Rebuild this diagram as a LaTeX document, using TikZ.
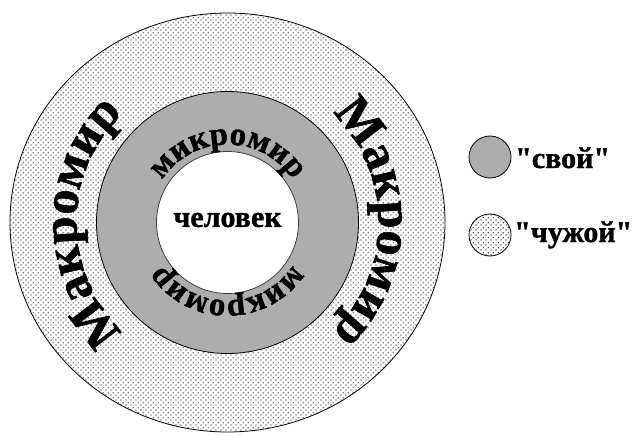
\documentclass[tikz,border=0pt]{standalone}
\usepackage{fontspec}
\setmainfont{Liberation Serif}[Ligatures=TeXOff, BoldFeatures={FakeBold=1.2}]
\usetikzlibrary{decorations.text,patterns}
\pgfdeclarepatternformonly{sparsedots}{\pgfqpoint{0pt}{0pt}}{\pgfqpoint{5pt}{5pt}}{\pgfqpoint{5pt}{5pt}}{%
  \pgfpathcircle{\pgfqpoint{1.25pt}{1.25pt}}{0.75pt}%
  \pgfpathcircle{\pgfqpoint{3.75pt}{3.75pt}}{0.75pt}%
  \pgfusepath{fill}}
\begin{document}
\begin{tikzpicture}[x=1pt,y=1pt]
\tikzset{
  macro/.style={draw=black, line width=0.8pt, preaction={fill=white}, pattern=sparsedots, pattern color=black},
  micro/.style={draw=black, line width=0.8pt, fill=black!32},
  human/.style={draw=black!75, line width=0.8pt, fill=white},
  lbl/.style={font=\bfseries\fontsize{30}{30}\selectfont, inner sep=0pt},
  ringtext/.style={decorate, decoration={text along path, text align=center, text={#1}}}
}
\fill[white] (0,0) rectangle (638,-436);
\useasboundingbox (0,0) rectangle (638,-436);
\coordinate (C) at (227.5pt,-222.5pt);
% rings
\draw[macro] (C) ellipse [x radius=217.5pt, y radius=209.5pt];
\draw[micro] (C) circle [radius=131pt];
\draw[human] (C) circle [radius=71pt];
% ring texts
\path[ringtext={|\bfseries\fontsize{50}{50}\selectfont|Макромир}]
  ([shift={(90:151pt)}]C) arc[start angle=90, end angle=-90, radius=151pt];
\path[ringtext={|\bfseries\fontsize{50}{50}\selectfont|Макромир}]
  ([shift={(270:151pt)}]C) arc[start angle=270, end angle=90, radius=151pt];
\path[ringtext={|\bfseries\fontsize{33}{33}\selectfont|микромир}]
  ([shift={(180:78pt)}]C) arc[start angle=180, end angle=0, radius=78pt];
\path[ringtext={|\bfseries\fontsize{33}{33}\selectfont|микромир}]
  ([shift={(0:78pt)}]C) arc[start angle=0, end angle=-180, radius=78pt];
\node[lbl] (man) at (227.5,-220) {человек};
% legend
\node[micro, circle, minimum size=42pt, inner sep=0pt] (own) at (490,-157) {};
\node[macro, circle, minimum size=42pt, inner sep=0pt] (alien) at (490,-235) {};
\node[lbl, anchor=base west] (ownlbl) at (515,-168) {"свой"};
\node[lbl, anchor=base west] (alienlbl) at (514,-242) {"чужой"};
\end{tikzpicture}
\end{document}
